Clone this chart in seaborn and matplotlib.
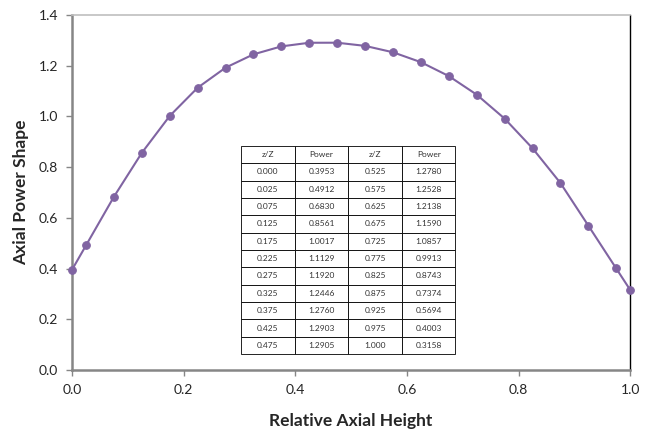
import matplotlib
matplotlib.use("Agg")
import matplotlib.pyplot as plt
import seaborn as sns
import pandas as pd

# Relative axial height and axial power shape (from the chart's table)
z_rel = [0.000, 0.025, 0.075, 0.125, 0.175, 0.225, 0.275, 0.325, 0.375, 0.425, 0.475,
         0.525, 0.575, 0.625, 0.675, 0.725, 0.775, 0.825, 0.875, 0.925, 0.975, 1.000]
power = [0.3953, 0.4912, 0.6830, 0.8561, 1.0017, 1.1129, 1.1920, 1.2446, 1.2760, 1.2903, 1.2905,
         1.2780, 1.2528, 1.2138, 1.1590, 1.0857, 0.9913, 0.8743, 0.7374, 0.5694, 0.4003, 0.3158]
x_ticks = [0.0, 0.2, 0.4, 0.6, 0.8, 1.0]
y_ticks = [0.0, 0.2, 0.4, 0.6, 0.8, 1.0, 1.2, 1.4]

sns.set_style("white")
plt.rcParams['font.family'] = ['Lato', 'DejaVu Sans']

df = pd.DataFrame({'z': z_rel, 'p': power})
purple = '#8064A2'

fig = plt.figure(figsize=(6.49, 4.33), dpi=100)
ax = fig.add_axes([0.111, 0.1455, 0.86, 0.82])
sns.lineplot(data=df, x='z', y='p', ax=ax, color=purple, marker='o',
             markersize=5.5, markeredgecolor=purple, linewidth=1.5, clip_on=False,
             zorder=5)

ax.set_xlim(0, 1)
ax.set_ylim(0, 1.4)
ax.set_xticks(x_ticks)
ax.set_yticks(y_ticks)
ax.set_xticklabels([f'{v:.1f}' for v in x_ticks])
ax.set_yticklabels([f'{v:.1f}' for v in y_ticks])
ax.tick_params(axis='both', direction='out', length=4, width=1, color='#868686',
               labelsize=10, pad=6, left=True, bottom=True)

for side in ['left', 'bottom']:
    ax.spines[side].set_color('#868686')
    ax.spines[side].set_linewidth(1.8)
ax.spines['top'].set_color('#BFBFBF')
ax.spines['top'].set_linewidth(1.2)
ax.spines['right'].set_color('black')
ax.spines['right'].set_linewidth(1.0)

ax.set_xlabel('Relative Axial Height', fontsize=12.5, fontweight='bold', labelpad=12)
ax.set_ylabel('Axial Power Shape', fontsize=12.5, fontweight='bold', labelpad=7)

# data table in the middle of the plot
half = len(z_rel) // 2
rows = []
for i in range(half):
    rows.append([f'{z_rel[i]:.3f}', f'{power[i]:.4f}',
                 f'{z_rel[i + half]:.3f}', f'{power[i + half]:.4f}'])
tbl = ax.table(cellText=rows, colLabels=['z/Z', 'Power', 'z/Z', 'Power'],
               cellLoc='center', bbox=[0.303, 0.045, 0.384, 0.586])
tbl.auto_set_font_size(False)
tbl.set_fontsize(6)
for cell in tbl.get_celld().values():
    cell.set_edgecolor('black')
    cell.set_linewidth(0.6)
    cell.set_facecolor('white')
    cell.get_text().set_color('#333333')

fig.savefig('out.png', dpi=100)
